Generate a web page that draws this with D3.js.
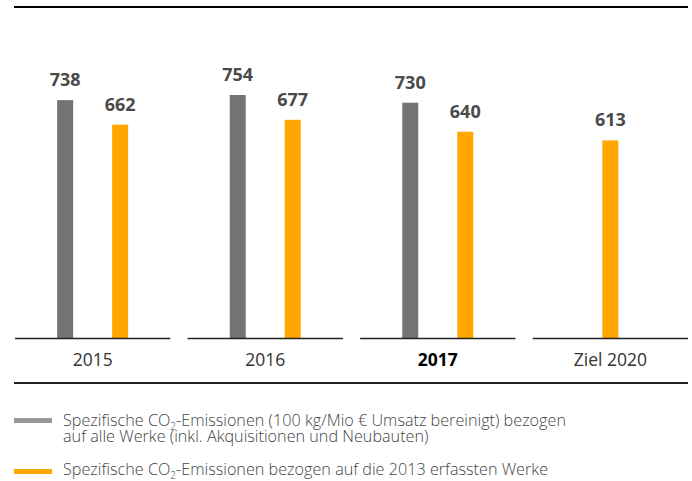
<!DOCTYPE html>
<meta charset="utf-8">
<style>
body { margin: 0; background: #fff; }
text { font-family: "Open Sans", "DejaVu Sans", sans-serif; }
.cat { font-size: 17.5px; fill: #333; }
.val { font-size: 18px; font-weight: bold; fill: #4a4a4a; }
.leg { font-size: 16.2px; font-weight: 300; fill: #444; }
</style>
<body>
<script src="https://cdn.jsdelivr.net/npm/d3@7"></script>
<script>
// data
var categories = ["2015", "2016", "2017", "Ziel 2020"];
var alleWerke = [738, 754, 730, null];   // grau
var werke2013 = [662, 677, 640, 613];    // orange
var legendLines = [
  ["Spezifische CO", "2", "-Emissionen (100 kg/Mio € Umsatz bereinigt) bezogen"],
  ["auf alle Werke (inkl. Akquisitionen und Neubauten)"],
  ["Spezifische CO", "2", "-Emissionen bezogen auf die 2013 erfassten Werke"]
];

var width = 692, height = 481;
var svg = d3.select("body").append("svg")
    .attr("width", width)
    .attr("height", height);

var x = d3.scaleBand().domain(categories).range([15, 688]).paddingInner(0.1).paddingOuter(0);
var y = d3.scaleLinear().domain([0, 1000]).range([338, 15.7]);
var colors = {alle: "#737373", w2013: "#ffa600"};
var barW = 16;

var rows = categories.map(function(c, i) {
  var bars = [];
  if (alleWerke[i] != null) bars.push({s: "alle", v: alleWerke[i]});
  if (werke2013[i] != null) bars.push({s: "w2013", v: werke2013[i]});
  return {cat: c, bars: bars};
});

function barX(d, row) {
  var center = x(row.cat) + x.bandwidth() / 2;
  if (row.bars.length == 1) return center;
  return center + (d.s == "alle" ? -27.5 : 27.5);
}

// top rule
svg.append("line").attr("x1", 14).attr("x2", 688).attr("y1", 7).attr("y2", 7)
  .attr("stroke", "#000").attr("stroke-width", 2);

var g = svg.selectAll(".grp").data(rows).enter().append("g").attr("class", "grp");

g.each(function(row) {
  var grp = d3.select(this);
  grp.selectAll("rect").data(row.bars).enter().append("rect")
    .attr("x", function(d) { return barX(d, row) - barW / 2; })
    .attr("width", barW)
    .attr("y", function(d) { return y(d.v); })
    .attr("height", function(d) { return y(0) - y(d.v); })
    .attr("fill", function(d) { return colors[d.s]; });
  grp.selectAll(".val").data(row.bars).enter().append("text")
    .attr("class", "val")
    .attr("text-anchor", "middle")
    .attr("x", function(d) { return barX(d, row); })
    .attr("y", function(d) { return y(d.v) - 14; })
    .text(function(d) { return d.v; });
  grp.append("line")
    .attr("x1", x(row.cat)).attr("x2", x(row.cat) + x.bandwidth())
    .attr("y1", 338.5).attr("y2", 338.5)
    .attr("stroke", "#222").attr("stroke-width", 1.5);
  grp.append("text")
    .attr("class", "cat")
    .attr("text-anchor", "middle")
    .attr("x", x(row.cat) + x.bandwidth() / 2)
    .attr("y", 366)
    .style("font-weight", row.cat == "2017" ? "bold" : null)
    .style("fill", row.cat == "2017" ? "#000" : null)
    .text(row.cat);
});

// bottom rule
svg.append("line").attr("x1", 14).attr("x2", 688).attr("y1", 383).attr("y2", 383)
  .attr("stroke", "#222").attr("stroke-width", 2);

// legend
svg.append("rect").attr("x", 14).attr("y", 418).attr("width", 38).attr("height", 5).attr("fill", "#999");
svg.append("rect").attr("x", 14).attr("y", 469).attr("width", 38).attr("height", 5).attr("fill", "#ffa600");

var legY = [426, 442, 475];
legendLines.forEach(function(parts, i) {
  var t = svg.append("text").attr("class", "leg").attr("x", 63).attr("y", legY[i]);
  parts.forEach(function(p, j) {
    var ts = t.append("tspan").text(p);
    if (j == 1) ts.attr("dy", 4).style("font-size", "10px");
    if (j == 2) ts.attr("dy", -4);
  });
});
</script>
